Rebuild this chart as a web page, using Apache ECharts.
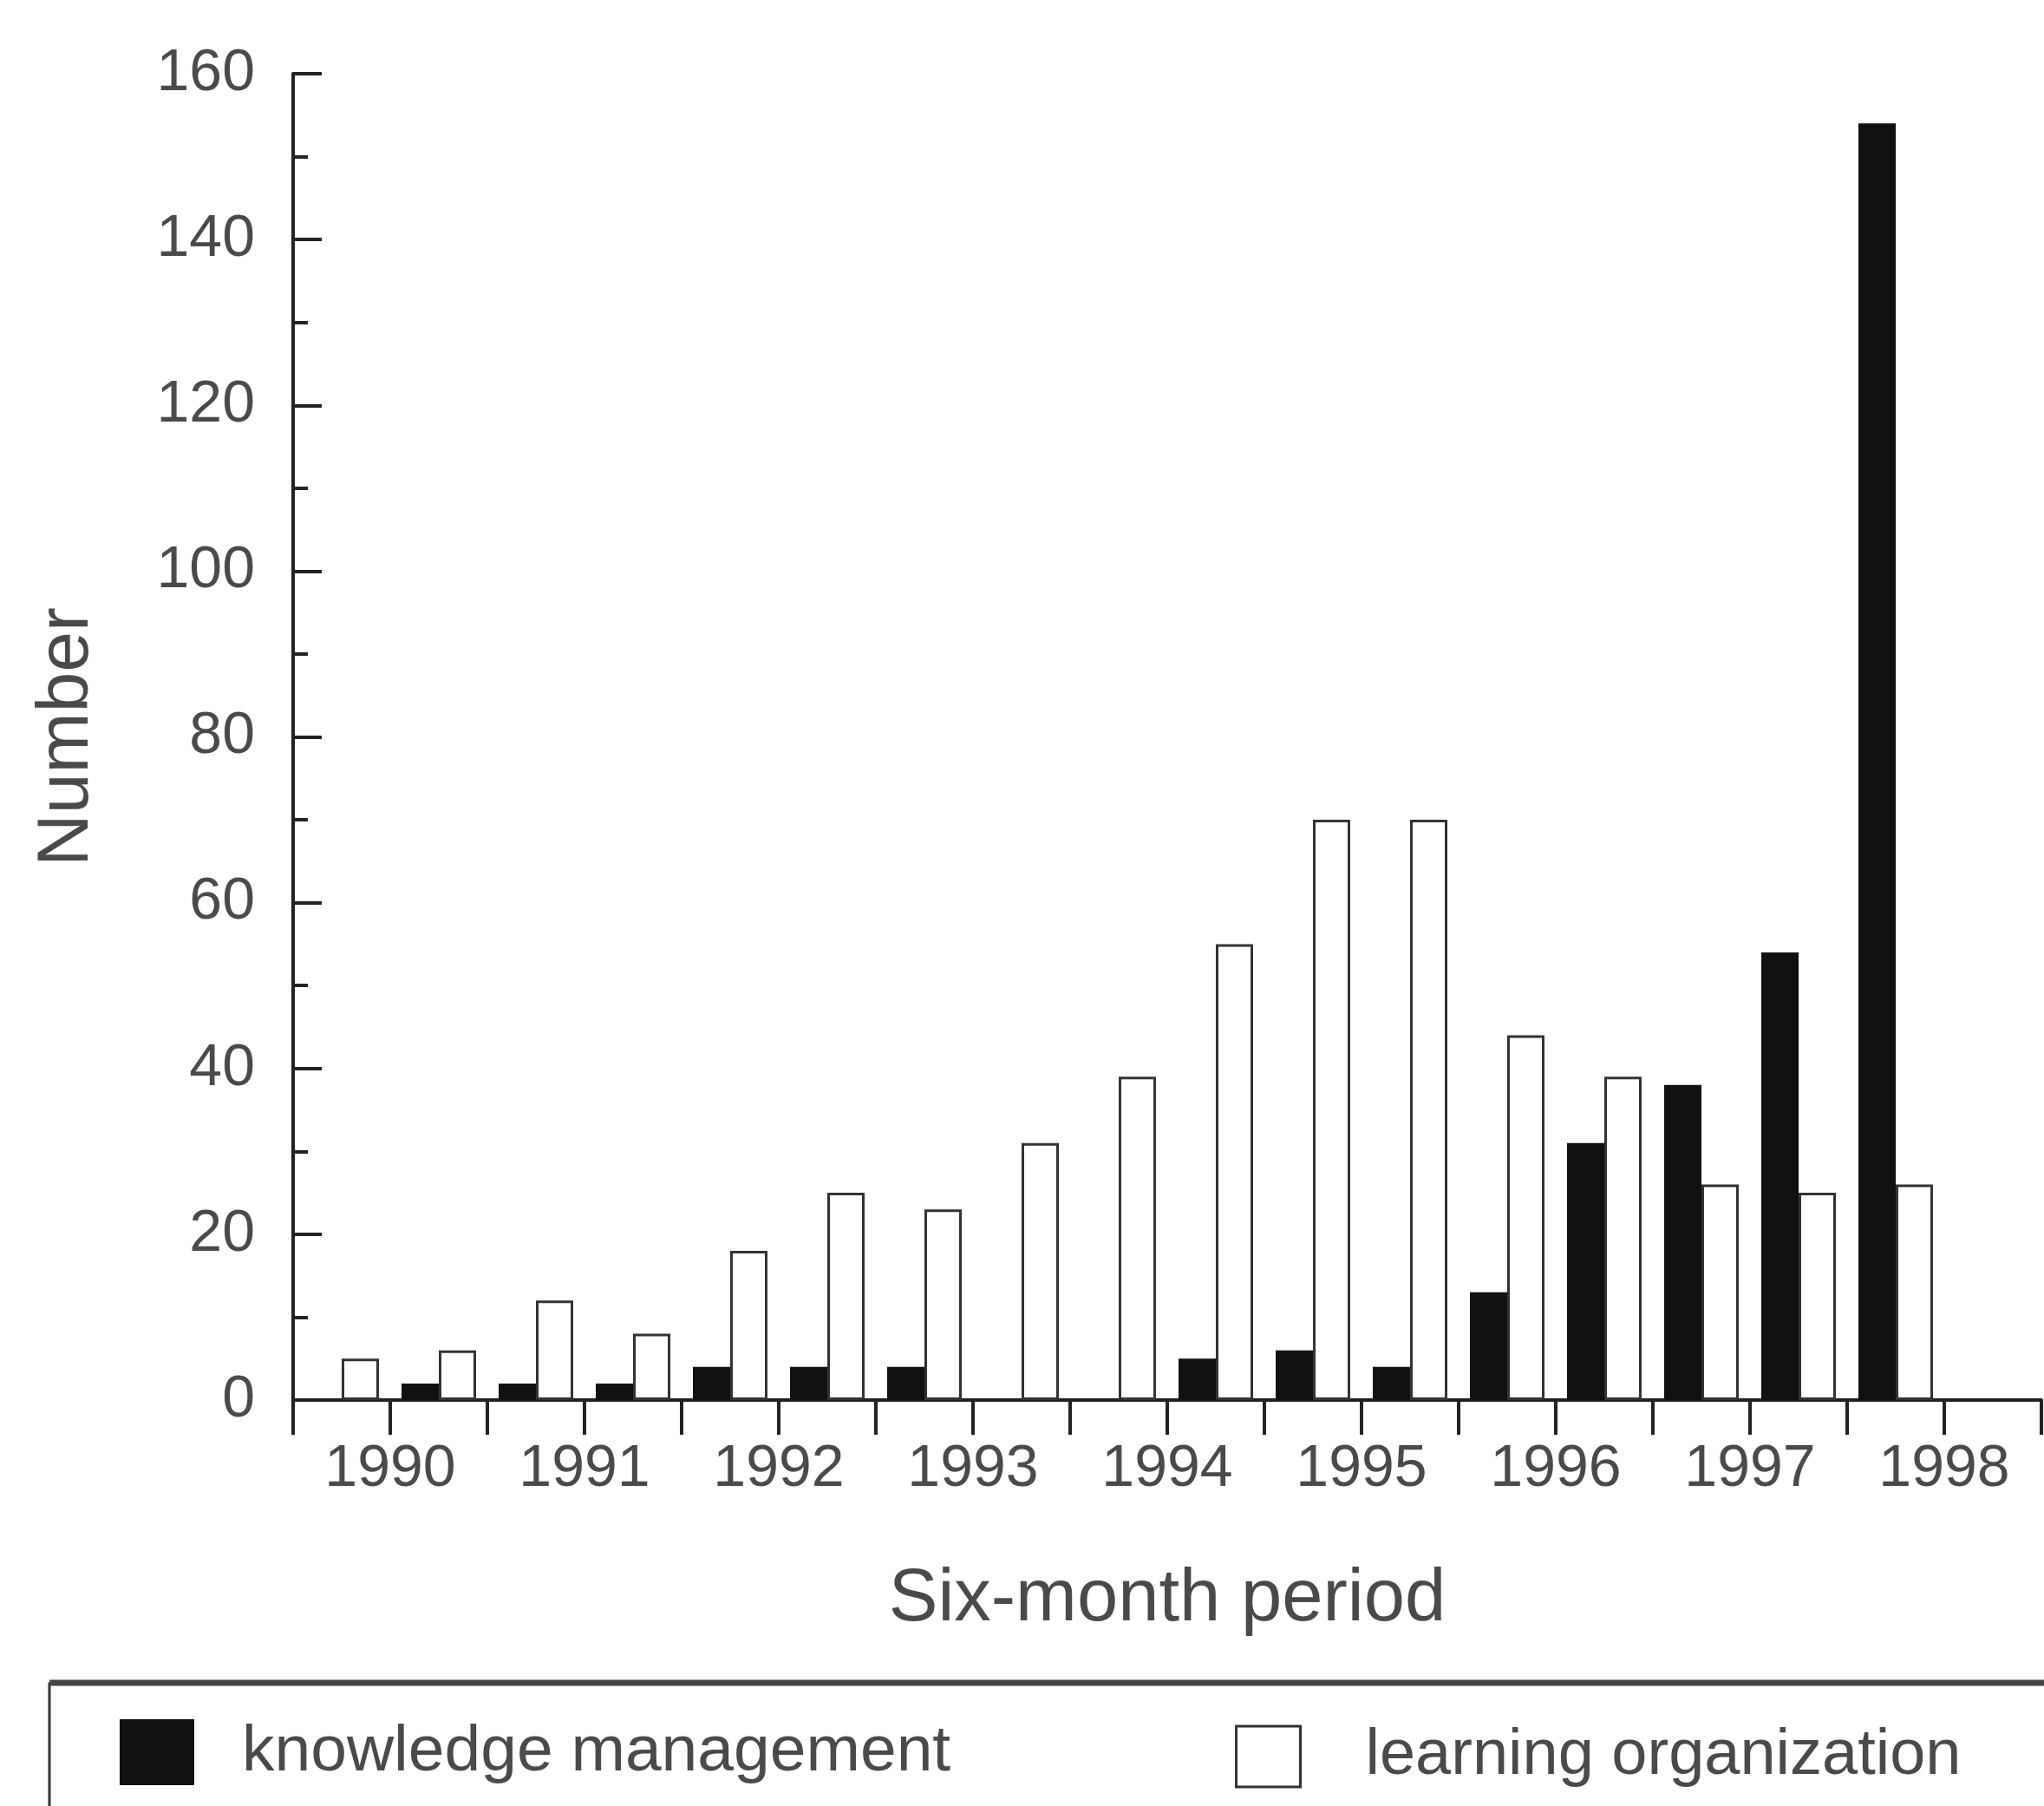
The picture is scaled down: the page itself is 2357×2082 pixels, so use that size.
<!DOCTYPE html>
<html>
<head>
<meta charset="utf-8">
<script src="https://cdn.jsdelivr.net/npm/echarts@6/dist/echarts.min.js"></script>
<style>
  html, body { margin: 0; padding: 0; background: #ffffff; }
  #chart { width: 2357px; height: 2082px; }
</style>
</head>
<body>
<div id="chart"></div>
<script>
// Six-month periods (H1 / H2 of each year)
const periods = [
  '1990 H1','1990 H2','1991 H1','1991 H2','1992 H1','1992 H2',
  '1993 H1','1993 H2','1994 H1','1994 H2','1995 H1','1995 H2',
  '1996 H1','1996 H2','1997 H1','1997 H2','1998 H1','1998 H2'
];
// Year tick labels (placed mid-year, between H1 and H2)
const yearLabels = ['1990','1991','1992','1993','1994','1995','1996','1997','1998'];

const knowledgeManagement = [0, 2, 2, 2, 4, 4, 4, 0, 0, 5, 6, 4, 13, 31, 38, 54, 154, null];
const learningOrganization = [5, 6, 12, 8, 18, 25, 23, 31, 39, 55, 70, 70, 44, 39, 26, 25, 26, null];

const yTicks = { min: 0, max: 160, interval: 20 };

const FONT = '"Liberation Sans", Arial, sans-serif';
const TXT = '#4a4a4a';
const AX = '#222222';

const chart = echarts.init(document.getElementById('chart'), null, { renderer: 'canvas' });

chart.setOption({
  backgroundColor: '#ffffff',
  animation: false,
  grid: { left: 338, right: -11, top: 85, bottom: 468, containLabel: false },
  xAxis: [
    {
      type: 'category',
      data: periods,
      show: false,
      boundaryGap: true
    },
    {
      type: 'value',
      position: 'bottom',
      min: 0,
      max: periods.length,
      interval: 1,
      name: 'Six-month period',
      nameLocation: 'middle',
      nameGap: 188,
      nameTextStyle: { fontFamily: FONT, fontSize: 85, color: TXT },
      axisLine: { show: true, lineStyle: { color: AX, width: 4 } },
      axisTick: { show: true, inside: false, length: 40, lineStyle: { color: AX, width: 4 } },
      axisLabel: {
        show: true,
        margin: 46,
        fontFamily: FONT,
        fontSize: 68,
        color: TXT,
        formatter: function (v) {
          const i = Math.round(v);
          if (i % 2 === 1) {
            const k = (i - 1) / 2;
            return k < yearLabels.length ? yearLabels[k] : '';
          }
          return '';
        }
      },
      splitLine: { show: false }
    }
  ],
  yAxis: {
    type: 'value',
    min: yTicks.min,
    max: yTicks.max,
    interval: yTicks.interval,
    name: 'Number',
    nameLocation: 'middle',
    nameGap: 218,
    nameRotate: 90,
    nameTextStyle: { fontFamily: FONT, fontSize: 84, color: TXT },
    axisLine: { show: true, lineStyle: { color: AX, width: 4 } },
    axisTick: { show: true, inside: true, length: 33, lineStyle: { color: AX, width: 4 } },
    minorTick: { show: true, splitNumber: 2, length: 17, lineStyle: { color: AX, width: 4 } },
    axisLabel: { margin: 44, fontFamily: FONT, fontSize: 68, color: TXT },
    splitLine: { show: false }
  },
  legend: [
    {
      data: ['knowledge management'],
      left: 133, top: 1977,
      icon: 'rect',
      itemWidth: 86, itemHeight: 76,
      textStyle: { fontFamily: FONT, fontSize: 75, color: TXT, padding: [0, 0, 0, 50] }
    },
    {
      data: ['learning organization'],
      left: 1419, top: 1983,
      icon: 'rect',
      itemWidth: 74, itemHeight: 70,
      itemStyle: { borderWidth: 3, borderColor: '#333' },
      textStyle: { fontFamily: FONT, fontSize: 74, color: TXT, padding: [0, 0, 0, 70] }
    }
  ],
  graphic: [
    {
      type: 'rect',
      shape: { x: 57, y: 1941, width: 2400, height: 300 },
      style: { fill: 'none', stroke: '#333', lineWidth: 3 },
      silent: true
    },
    {
      type: 'line',
      shape: { x1: 57, y1: 1940, x2: 2400, y2: 1940 },
      style: { stroke: '#444', lineWidth: 7 },
      silent: true
    }
  ],
  series: [
    {
      name: 'knowledge management',
      type: 'bar',
      xAxisIndex: 0,
      data: knowledgeManagement,
      barWidth: 43,
      barGap: '0%',
      itemStyle: { color: '#111111' }
    },
    {
      name: 'learning organization',
      type: 'bar',
      xAxisIndex: 0,
      data: learningOrganization,
      barWidth: 43,
      barGap: '0%',
      itemStyle: { color: '#ffffff', borderColor: '#333333', borderWidth: 3 }
    }
  ]
});
</script>
</body>
</html>
